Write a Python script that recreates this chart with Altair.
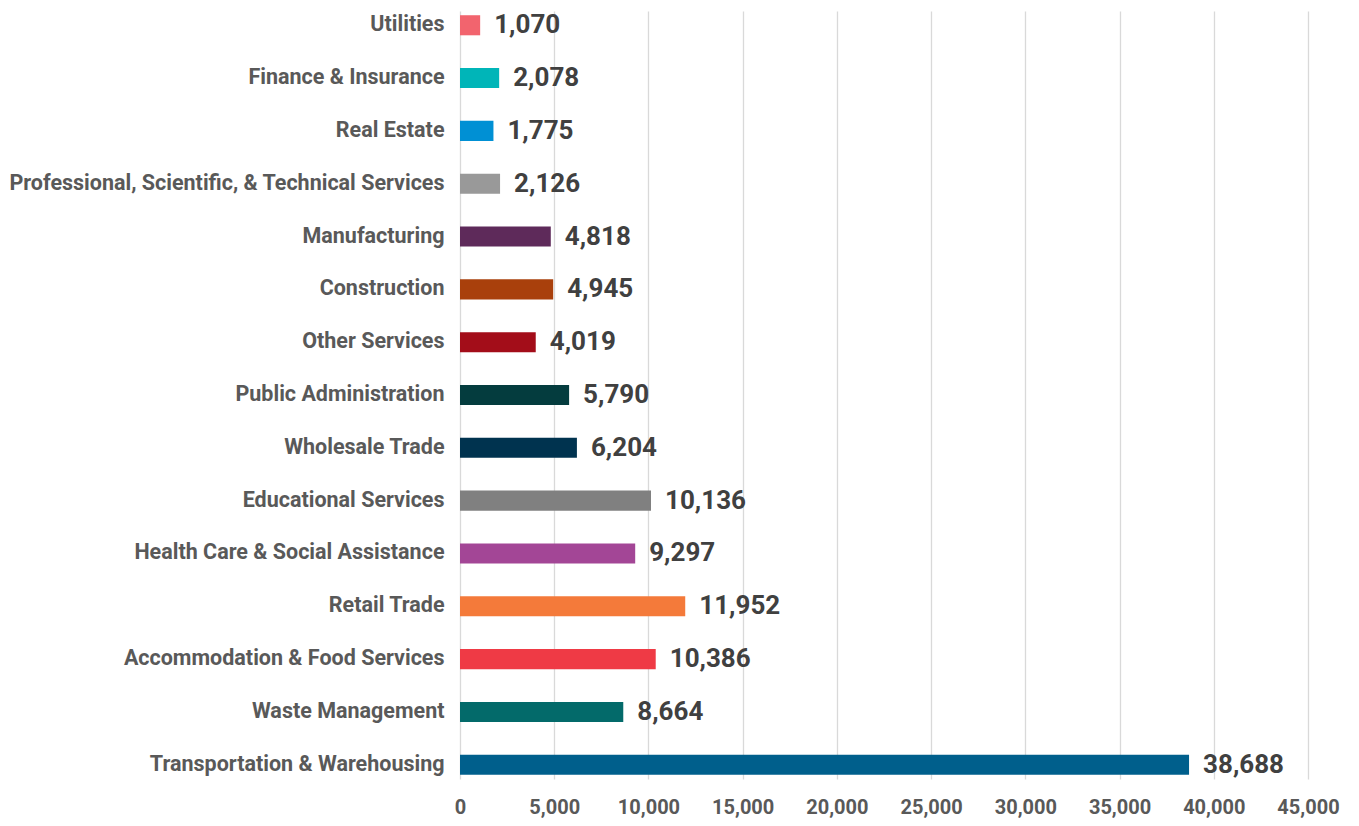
import altair as alt
import pandas as pd

categories = [
    "Utilities", "Finance & Insurance", "Real Estate",
    "Professional, Scientific, & Technical Services", "Manufacturing",
    "Construction", "Other Services", "Public Administration",
    "Wholesale Trade", "Educational Services",
    "Health Care & Social Assistance", "Retail Trade",
    "Accommodation & Food Services", "Waste Management",
    "Transportation & Warehousing",
]
values = [1070, 2078, 1775, 2126, 4818, 4945, 4019, 5790, 6204, 10136,
          9297, 11952, 10386, 8664, 38688]
colors = ["#F2646E", "#00B5B8", "#0090D4", "#999999", "#5E2A5A",
          "#A9400C", "#A30D19", "#043C3E", "#00334F", "#808080",
          "#A34696", "#F47A3A", "#EF3A45", "#036A6A", "#005F8C"]
x_ticks = [0, 5000, 10000, 15000, 20000, 25000, 30000, 35000, 40000, 45000]

df = pd.DataFrame({"Industry": categories, "Value": values})

y_enc = alt.Y("Industry:N", sort=categories, title=None,
              scale=alt.Scale(paddingInner=0.62, paddingOuter=0.08),
              axis=alt.Axis(labelFont="Roboto", labelFontWeight="bold",
                            labelFontSize=21.5, labelColor="#595959",
                            labelLimit=600, labelPadding=16, ticks=False,
                            domain=False, grid=False))
x_enc = alt.X("Value:Q", title=None,
              scale=alt.Scale(domain=[0, 45000], nice=False),
              axis=alt.Axis(values=x_ticks, format=",.0f", labelFont="Roboto",
                            labelFontWeight="bold", labelFontSize=20,
                            labelColor="#595959", labelPadding=18,
                            labelOverlap=False, labelFlush=False,
                            ticks=False, domain=False, grid=True,
                            gridColor="#d9d9d9", gridWidth=1.3))

bars = alt.Chart(df).mark_bar().encode(
    y=y_enc, x=x_enc,
    color=alt.Color("Industry:N", scale=alt.Scale(domain=categories, range=colors),
                    legend=None),
)
labels = alt.Chart(df).mark_text(
    align="left", baseline="middle", dx=14, font="Roboto", fontWeight="bold",
    fontSize=26, color="#404040"
).encode(
    y=alt.Y("Industry:N", sort=categories),
    x="Value:Q",
    text=alt.Text("Value:Q", format=",.0f"),
)

chart = (bars + labels).properties(
    width=848, height=768,
    padding={"left": 0, "top": 3, "right": 5, "bottom": 5},
).configure_view(stroke=None)

chart.save("out.html", embed_options={"renderer": "svg", "actions": False})
